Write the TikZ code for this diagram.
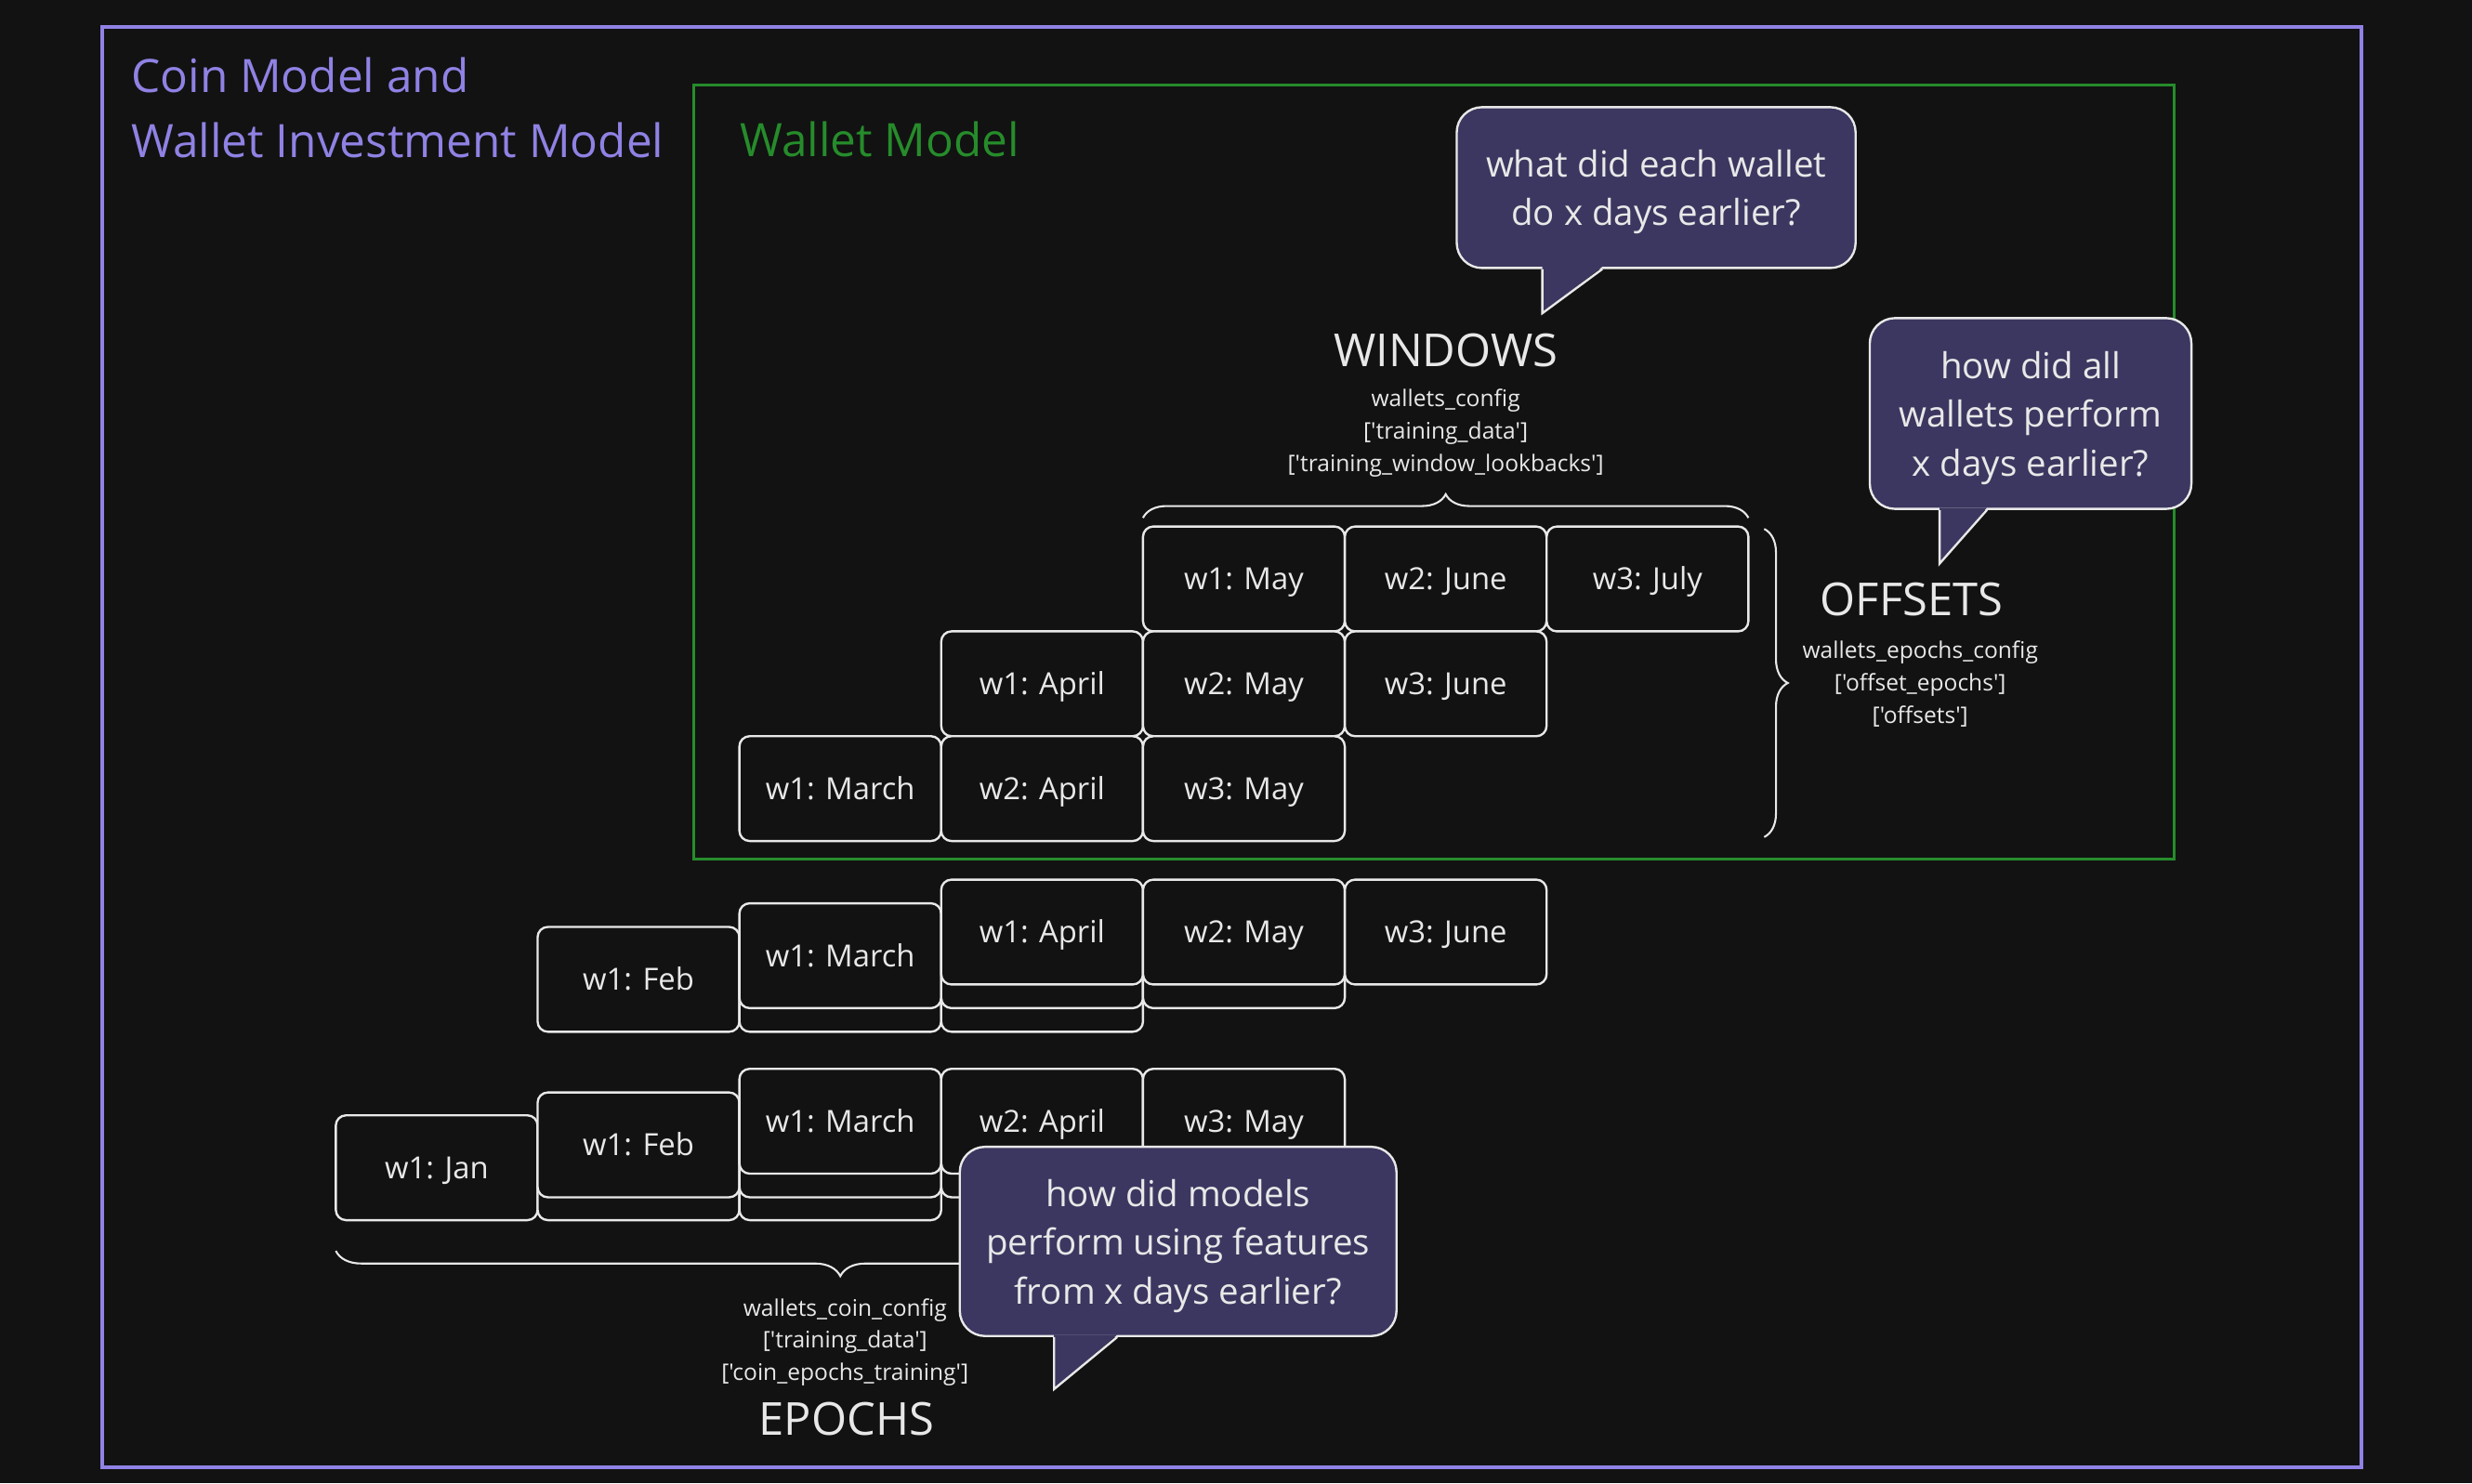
\documentclass[tikz,border=0pt]{standalone}
\usepackage{fontspec}
\setmainfont{Open Sans}[Ligatures = TeXOff]
\usetikzlibrary{decorations.pathreplacing}
\definecolor{bgdark}{HTML}{121212}
\definecolor{chalk}{HTML}{E8E8E8}
\definecolor{coinpurple}{HTML}{8F82E4}
\definecolor{walletgreen}{HTML}{268C2B}
\definecolor{askfill}{HTML}{3C3760}

\begin{document}
\begin{tikzpicture}[x = 0.2mm, y = -0.2mm, align = center,
        cell/.style = {draw = chalk, fill = bgdark, text = chalk, line width = 0.8pt, rounded corners = 1.3mm, minimum width = 25.6mm, minimum height = 13.3mm, inner sep = 0pt, outer sep = 0pt, anchor = north west, text height = 7.9pt, text depth = 0pt, font = \fontsize{11}{13}\selectfont},
        ask/.style = {draw = chalk, fill = askfill, text = chalk, line width = 0.8pt, rounded corners = 3.2mm, text depth = 0pt, font = \fontsize{12.9}{17.6}\selectfont},
        heading/.style = {text = chalk, inner sep = 0pt, anchor = base, font = \fontsize{16.4}{20}\selectfont},
        config/.style = {text = chalk, inner sep = 0pt, font = \fontsize{8.25}{11.7}\selectfont},
        curly/.style = {draw = chalk, line width = 0.7pt, decorate, decoration = {brace, amplitude = 3mm}}]
    \fill[bgdark] (0, 0) rectangle (1568, 940.8);
    \draw[coinpurple, line width = 1.35pt] (65, 17) rectangle (1498, 931);
    \draw[walletgreen, line width = 1pt] (440, 54) rectangle (1379, 545);
    \node[text = coinpurple, anchor = west, align = left, inner sep = 0pt, font = \fontsize{16.6}{23.4}\selectfont] (coin) at (83, 68.2) {Coin Model and\\Wallet Investment Model};
    \node[text = walletgreen, anchor = base west, inner sep = 0pt, font = \fontsize{16.6}{23.4}\selectfont] (wallet) at (469, 99.3) {Wallet Model};

    \node[cell] (o11) at (725, 334) {w1: May};
    \node[cell] (o12) at (853, 334) {w2: June};
    \node[cell] (o13) at (981, 334) {w3: July};
    \node[cell] (o21) at (597, 400.5) {w1: April};
    \node[cell] (o22) at (725, 400.5) {w2: May};
    \node[cell] (o23) at (853, 400.5) {w3: June};
    \node[cell] (o31) at (469, 467) {w1: March};
    \node[cell] (o32) at (597, 467) {w2: April};
    \node[cell] (o33) at (725, 467) {w3: May};

    \node[cell] (a31) at (341, 588) {w1: Feb};
    \node[cell] (a32) at (469, 588) {};
    \node[cell] (a33) at (597, 588) {};
    \node[cell] (a21) at (469, 573) {w1: March};
    \node[cell] (a22) at (597, 573) {};
    \node[cell] (a23) at (725, 573) {};
    \node[cell] (a11) at (597, 558) {w1: April};
    \node[cell] (a12) at (725, 558) {w2: May};
    \node[cell] (a13) at (853, 558) {w3: June};

    \node[cell] (b31) at (213, 707.5) {w1: Jan};
    \node[cell] (b32) at (341, 707.5) {};
    \node[cell] (b33) at (469, 707.5) {};
    \node[cell] (b21) at (341, 693) {w1: Feb};
    \node[cell] (b22) at (469, 693) {};
    \node[cell] (b23) at (597, 693) {};
    \node[cell] (b11) at (469, 678) {w1: March};
    \node[cell] (b12) at (597, 678) {w2: April};
    \node[cell] (b13) at (725, 678) {w3: May};

    \draw[curly] ([yshift = 1.1mm]o11.north west) -- ([yshift = 1.1mm]o13.north east);
    \coordinate (offtop) at ([xshift = 2mm, yshift = -0.3mm]o13.north east);
    \coordinate (offbot) at (offtop |- o33.south);
    \draw[curly] (offtop) -- ([yshift = 0.5mm]offbot);
    \coordinate (epochleft) at ([yshift = -3.9mm]b31.south west);
    \coordinate (epochright) at (epochleft -| b13.east);
    \draw[curly, decoration = {brace, amplitude = 3.2mm}] (epochright) -- (epochleft);

    \node[heading] (windows) at (917, 232.3) {WINDOWS};
    \node[config] (windowscfg) at (917, 274.5) {wallets\_config\\{[}'training\_data']\\{[}'training\_window\_lookbacks']};
    \node[heading] (offsets) at (1212.5, 390.6) {OFFSETS};
    \node[config] (offsetscfg) at (1218, 434) {wallets\_epochs\_config\\{[}'offset\_epochs']\\{[}'offsets']};
    \node[config] (epochscfg) at (536, 851.5) {wallets\_coin\_config\\{[}'training\_data']\\{[}'coin\_epochs\_training']};
    \node[heading] (epochs) at (537, 910.5) {EPOCHS};

    \node[ask, minimum width = 50.6mm, minimum height = 20.4mm] (askwin) at (1050.5, 119) {what did each wallet\\do x days earlier?};
    \fill[askfill] ([xshift = 11mm, yshift = 0.3mm]askwin.south west) -- ([xshift = 11mm, yshift = -5.6mm]askwin.south west) -- ([xshift = 18.6mm, yshift = 0.3mm]askwin.south west) -- cycle;
    \draw[chalk, line width = 0.8pt] ([xshift = 11mm]askwin.south west) -- ++(0, -5.6mm) -- ([xshift = 18.6mm]askwin.south west);

    \node[ask, minimum width = 40.8mm, minimum height = 24.2mm] (askoff) at (1288, 262.3) {how did all\\wallets perform\\x days earlier?};
    \fill[askfill] ([xshift = 9mm, yshift = 0.3mm]askoff.south west) -- ([xshift = 9mm, yshift = -6.8mm]askoff.south west) -- ([xshift = 15mm, yshift = 0.3mm]askoff.south west) -- cycle;
    \draw[chalk, line width = 0.8pt] ([xshift = 9mm]askoff.south west) -- ++(0, -6.8mm) -- ([xshift = 15mm]askoff.south west);

    \node[ask, minimum width = 55.4mm, minimum height = 24mm] (askepo) at (747.3, 787.5) {how did models\\perform using features\\from x days earlier?};
    \fill[askfill] ([xshift = 12.1mm, yshift = 0.3mm]askepo.south west) -- ([xshift = 12.1mm, yshift = -6.6mm]askepo.south west) -- ([xshift = 20.1mm, yshift = 0.3mm]askepo.south west) -- cycle;
    \draw[chalk, line width = 0.8pt] ([xshift = 12.1mm]askepo.south west) -- ++(0, -6.6mm) -- ([xshift = 20.1mm]askepo.south west);
\end{tikzpicture}
\end{document}
